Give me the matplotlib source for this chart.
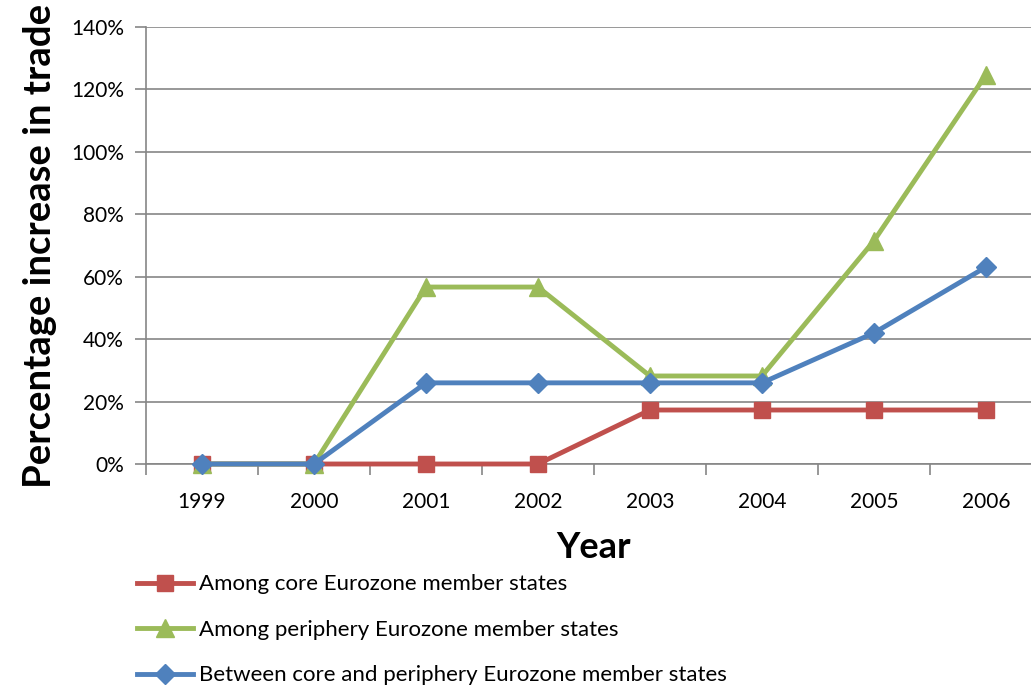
import matplotlib.pyplot as plt
from matplotlib.ticker import FuncFormatter
import numpy as np

plt.rcParams['font.family'] = ['Lato', 'DejaVu Sans']

years = ['1999', '2000', '2001', '2002', '2003', '2004', '2005', '2006']
core = [0, 0, 0, 0, 17.3, 17.3, 17.3, 17.3]
periphery = [0, 0, 56.7, 56.7, 28.2, 28.2, 71.5, 124.7]
between = [0, 0, 26, 26, 26, 26, 42, 63.1]

labels = [
    'Among core Eurozone member states',
    'Among periphery Eurozone member states',
    'Between core and periphery Eurozone member states',
]

fig = plt.figure(figsize=(10.31, 6.87), dpi=100)
ax = fig.add_axes([0.1416, 0.3246, 0.869, 0.636])

x = np.arange(len(years))
ax.plot(x, core, color='#C0504D', lw=3.5, marker='s', ms=12, label=labels[0],
        zorder=3, clip_on=False)
ax.plot(x, periphery, color='#9BBB59', lw=3.5, marker='^', ms=13, label=labels[1],
        zorder=3, clip_on=False)
ax.plot(x, between, color='#4F81BD', lw=3.5, marker='D', ms=10, label=labels[2],
        zorder=4, clip_on=False)

ax.set_xlim(-0.5, len(years) - 0.5)
ax.set_ylim(0, 140)
ax.set_yticks(np.arange(0, 141, 20))
ax.yaxis.set_major_formatter(FuncFormatter(lambda v, p: f'{v:.0f}%'))
ax.set_xticks(x)
ax.set_xticklabels(years)
ax.set_xticks(np.arange(-0.5, len(years)), minor=True)
ax.tick_params(axis='x', which='major', length=0, pad=20, labelsize=15)
ax.tick_params(axis='x', which='minor', length=8, color='#868686', width=1.2)
ax.tick_params(axis='y', length=8, color='#868686', width=1.2, labelsize=15, pad=8)

ax.grid(axis='y', color='#868686', lw=1.2)
ax.set_axisbelow(True)
for s in ['top', 'right']:
    ax.spines[s].set_visible(False)
for s in ['left', 'bottom']:
    ax.spines[s].set_color('#868686')
    ax.spines[s].set_linewidth(1.2)

ax.set_ylabel('Percentage increase in trade', fontsize=27.5, fontweight='bold', labelpad=10)
ax.set_xlabel('Year', fontsize=26, fontweight='bold', labelpad=14)

fig.legend(loc='upper left', bbox_to_anchor=(0.133, 0.164), frameon=False,
           fontsize=16, handlelength=2.5, handletextpad=0.3, labelspacing=1.15,
           borderaxespad=0, borderpad=0)

fig.savefig('out.png', dpi=100)
